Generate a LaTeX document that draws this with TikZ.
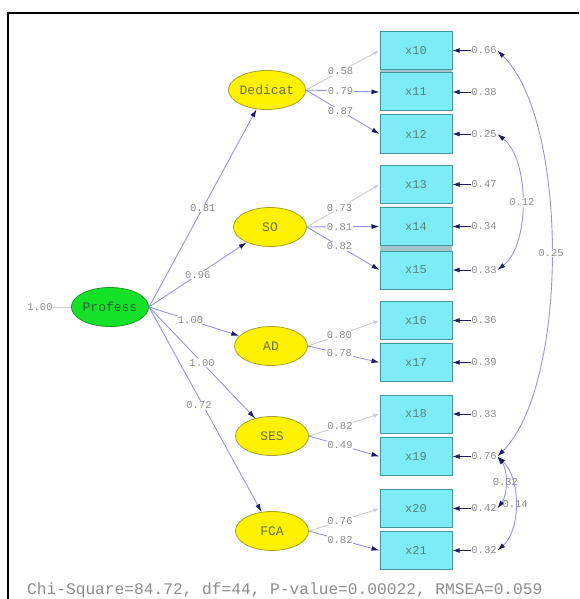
\documentclass[tikz,border=0pt]{standalone}
\usepackage{fontspec}
\setmonofont{Liberation Mono}
\usetikzlibrary{shapes.geometric,arrows.meta}

\definecolor{boxfill}{RGB}{125,236,246}
\definecolor{boxdraw}{RGB}{70,150,160}
\definecolor{boxtext}{RGB}{80,130,130}
\definecolor{latdraw}{RGB}{170,160,40}
\definecolor{lattext}{RGB}{110,110,60}
\definecolor{profill}{RGB}{20,225,40}
\definecolor{prodraw}{RGB}{30,150,40}
\definecolor{protext}{RGB}{30,100,40}
\definecolor{pathc}{RGB}{150,150,220}
\definecolor{tipc}{RGB}{30,30,95}
\definecolor{fixc}{RGB}{205,205,205}
\definecolor{numgray}{RGB}{140,140,140}
\definecolor{stripc}{RGB}{165,195,200}

\tikzset{
  obs/.style={draw=boxdraw, fill=boxfill, line width=1pt, minimum width=72pt,
    minimum height=38pt, inner sep=0pt, text=boxtext,
    font=\ttfamily\fontsize{12}{12}\selectfont},
  lat/.style={ellipse, draw=latdraw, fill=yellow, line width=0.8pt,
    minimum width=73pt, minimum height=39pt, inner sep=0pt, text=lattext,
    font=\ttfamily\fontsize{13}{13}\selectfont},
  num/.style={text=numgray, inner sep=0.6pt,
    font=\ttfamily\fontsize{10.5}{10.5}\selectfont},
  numbg/.style={num, fill=white},
  load/.style={draw=pathc, line width=0.9pt,
    -{Latex[length=8pt,width=5pt,color=tipc]}},
  fixload/.style={draw=fixc, line width=0.9pt,
    -{Latex[length=6pt,width=4pt,color=fixc]}},
  errarrow/.style={draw=tipc, line width=0.9pt,
    -{Latex[length=7pt,width=5pt]}},
  corr/.style={draw=pathc, line width=0.9pt,
    {Latex[length=8pt,width=5pt,color=tipc]}-{Latex[length=8pt,width=5pt,color=tipc]}}
}

\begin{document}
\begin{tikzpicture}[x=1pt,y=-1pt]
\useasboundingbox (0,0) rectangle (579,599);

% frame
\draw[line width=2pt] (8,599) -- (8,13) -- (579,13);

% grey separators between touching boxes
\fill[stripc] (380,69) rectangle (452,73.5);
\fill[stripc] (380,245.5) rectangle (452,251.5);

% observed variables
\node[obs] (x10) at (416,50.5)  {x10};
\node[obs] (x11) at (416,92)    {x11};
\node[obs] (x12) at (416,134)   {x12};
\node[obs] (x13) at (416,184.5) {x13};
\node[obs] (x14) at (416,226.5) {x14};
\node[obs] (x15) at (416,270)   {x15};
\node[obs] (x16) at (416,320.5) {x16};
\node[obs] (x17) at (416,362.5) {x17};
\node[obs] (x18) at (416,414)   {x18};
\node[obs] (x19) at (416,456.5) {x19};
\node[obs] (x20) at (416,508.5) {x20};
\node[obs] (x21) at (416,550.5) {x21};

% latent variables
\node[lat] (ded) at (267,90)  {Dedicat};
\node[lat] (so)  at (270,227) {SO};
\node[lat] (ad)  at (271,346) {AD};
\node[lat] (ses) at (272,436) {SES};
\node[lat] (fca) at (272,531) {FCA};
\node[lat, fill=profill, draw=prodraw, text=protext] (pro) at (110,307) {Profess};

% variance of the second-order factor
\node[num] (pv) at (40,307) {1.00};
\draw[fixc, line width=0.9pt] (pv.east) -- (pro.west);

% second-order loadings
\draw[load] (pro.east) -- node[numbg, pos=0.5]  {0.81} (ded);
\draw[load] (pro.east) -- node[numbg, pos=0.5]  {0.96} (so);
\draw[load] (pro.east) -- node[numbg, pos=0.46] {1.00} (ad);
\draw[load] (pro.east) -- node[numbg, pos=0.5]  {1.00} (ses);
\draw[load] (pro.east) -- node[numbg, pos=0.48, xshift=-4pt] {0.72} (fca);

% first-order loadings
\draw[fixload] (ded.east) -- node[numbg, pos=0.47] {0.58} (x10.west);
\draw[load]    (ded.east) -- node[numbg, pos=0.47] {0.79} (x11.west);
\draw[load]    (ded.east) -- node[numbg, pos=0.47] {0.87} (x12.west);

\draw[fixload] (so.east) -- node[numbg, pos=0.45] {0.73} (x13.west);
\draw[load]    (so.east) -- node[numbg, pos=0.45] {0.81} (x14.west);
\draw[load]    (so.east) -- node[numbg, pos=0.45] {0.82} (x15.west);

\draw[fixload] (ad.east) -- node[numbg, pos=0.44] {0.80} (x16.west);
\draw[load]    (ad.east) -- node[numbg, pos=0.44] {0.78} (x17.west);

\draw[fixload] (ses.east) -- node[numbg, pos=0.44] {0.82} (x18.west);
\draw[load]    (ses.east) -- node[numbg, pos=0.44] {0.49} (x19.west);

\draw[fixload] (fca.east) -- node[numbg, pos=0.44] {0.76} (x20.west);
\draw[load]    (fca.east) -- node[numbg, pos=0.44] {0.82} (x21.west);

% error variances
\node[num] (e10) at (484,50.5)  {0.66};
\node[num] (e11) at (484,92)    {0.38};
\node[num] (e12) at (484,134)   {0.25};
\node[num] (e13) at (484,184.5) {0.47};
\node[num] (e14) at (484,226.5) {0.34};
\node[num] (e15) at (484,270)   {0.33};
\node[num] (e16) at (484,320.5) {0.36};
\node[num] (e17) at (484,362.5) {0.39};
\node[num] (e18) at (484,414)   {0.33};
\node[num] (e19) at (484,456.5) {0.76};
\node[num] (e20) at (484,508.5) {0.42};
\node[num] (e21) at (484,550.5) {0.32};

\foreach \i in {10,...,21} {
  \draw[errarrow] (e\i.west) -- (x\i.east);
}

% error covariances
\draw[corr] (e10.east) .. controls (569,120) and (569,385) ..
  node[numbg, pos=0.5] {0.25} (e19.east);
\draw[corr] (e12.east) .. controls (530,160) and (530,245) ..
  node[numbg, pos=0.5] {0.12} (e15.east);
\draw[corr] (e19.east) .. controls (508,470) and (508,494) ..
  node[num, pos=0.5] {0.32} (e20.east);
\draw[corr] (e19.east) .. controls (521,478) and (521,530) ..
  node[num, pos=0.5] {0.14} (e21.east);

% fit statistics
\node[text=numgray, anchor=west, inner sep=0pt,
  font=\ttfamily\fontsize{16.2}{16.2}\selectfont] (fit) at (27,590)
  {Chi-Square=84.72, df=44, P-value=0.00022, RMSEA=0.059};
\end{tikzpicture}
\end{document}
